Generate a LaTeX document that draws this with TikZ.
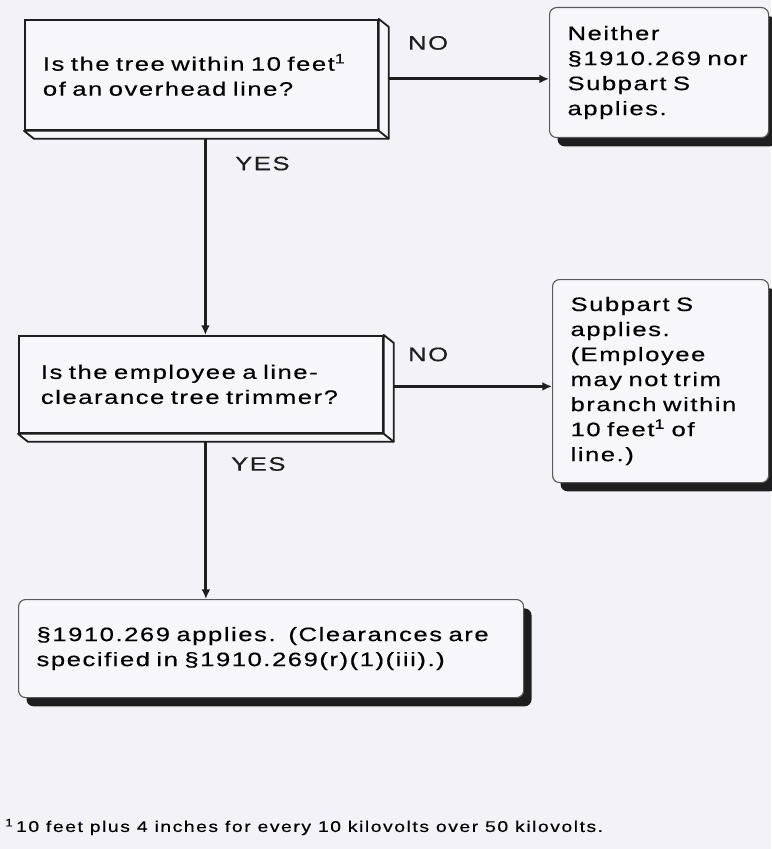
\documentclass[tikz,border=0pt]{standalone}
\usepackage{fontspec}
\setmainfont{Liberation Sans}[FakeStretch=1.32,LetterSpace=8,WordSpace=1.7,FakeBold=0.4]
\newfontfamily\notefont{Liberation Sans}[FakeStretch=1.25,LetterSpace=10,FakeBold=0.4]
\usetikzlibrary{arrows.meta,calc,shadows}
\definecolor{chartPaper}{HTML}{F3F2F8}
\definecolor{chartBox}{HTML}{F7F6FB}
\definecolor{chartInk}{HTML}{1E1E1E}

\begin{document}
\begin{tikzpicture}[font=\fontsize{13.8}{17.8}\selectfont,
    ask/.style={draw=chartInk,fill=chartBox,line width=1.3pt,anchor=north west,
                align=left,inner xsep=0.45cm,inner ysep=0pt},
    ans/.style={draw=black!65,fill=chartBox,line width=0.8pt,rounded corners=5pt,
                anchor=north west,align=left,inner xsep=0.45cm,inner ysep=0pt,
                drop shadow={shadow xshift=0.2cm,shadow yshift=-0.22cm,
                             fill=chartInk,opacity=1}},
    side/.style={draw=chartInk,fill=chartBox,line width=1.3pt,line join=round},
    arr/.style={-{Latex[length=2.4mm,width=2.2mm]},chartInk,line width=2.2pt},
    lbl/.style={inner sep=1pt}]

  \fill[chartPaper] (0,0) rectangle (19.275,-21.225);
  \useasboundingbox (0,0) rectangle (19.275,-21.225);

  % questions
  \node[ask,text width=7.925cm,minimum height=2.75cm] (q1) at (0.6,-0.475)
    {Is the tree within 10 feet\textsuperscript{1}\\of an overhead line?};
  \node[ask,inner xsep=0.55cm,text width=8.0cm,minimum height=2.425cm] (q2) at (0.45,-8.375)
    {Is the employee a line-\\clearance tree trimmer?};

  \draw[side] (q1.north east) -- ++(0.25,-0.2) |- ($(q1.south west)+(0.25,-0.2)$)
    -- (q1.south west) -- (q1.south east) -- cycle;
  \draw[side] (q1.south east) -- ++(0.25,-0.2);
  \draw[side] (q2.north east) -- ++(0.25,-0.2) |- ($(q2.south west)+(0.25,-0.2)$)
    -- (q2.south west) -- (q2.south east) -- cycle;
  \draw[side] (q2.south east) -- ++(0.25,-0.2);

  % answers
  \node[ans,text width=4.575cm,minimum height=3.25cm] (r1) at (13.725,-0.175)
    {Neither\\\S1910.269 nor\\Subpart S\\applies.};
  \node[ans,text width=4.5cm,minimum height=5.075cm] (r2) at (13.8,-6.975)
    {Subpart S\\applies.\\(Employee\\may not trim\\branch within\\10 feet\textsuperscript{1} of\\line.)};
  \node[ans,text width=11.725cm,minimum height=2.45cm] (res) at (0.45,-14.975)
    {\S1910.269 applies.\ \ (Clearances are\\specified in \S1910.269(r)(1)(iii).)};

  \coordinate (q1r) at ($(q1.east)+(0.25,-0.1)$);
  \coordinate (q1d) at ($(q1.south)+(0.1,-0.2)$);
  \coordinate (q2r) at ($(q2.east)+(0.25,-0.05)$);
  \coordinate (q2d) at ($(q2.south)+(0.125,-0.2)$);

  \draw[arr] (q1r) -- node[lbl,pos=0.245,yshift=0.9cm] {NO} (q1r -| r1.west);
  \draw[arr] (q1d) -- node[lbl,pos=0.126,xshift=1.425cm] {YES} (q1d |- q2.north);
  \draw[arr] (q2r) -- node[lbl,pos=0.217,yshift=0.8cm] {NO} (q2r -| r2.west);
  \draw[arr] (q2d) -- node[lbl,pos=0.141,xshift=1.31cm] {YES} (q2d |- res.north);

  \node[anchor=west,inner sep=0pt,font=\notefont\fontsize{11}{12}\selectfont] (note)
    at (0.125,-20.675)
    {\textsuperscript{1}\,10 feet plus 4 inches for every 10 kilovolts over 50 kilovolts.};
\end{tikzpicture}
\end{document}
